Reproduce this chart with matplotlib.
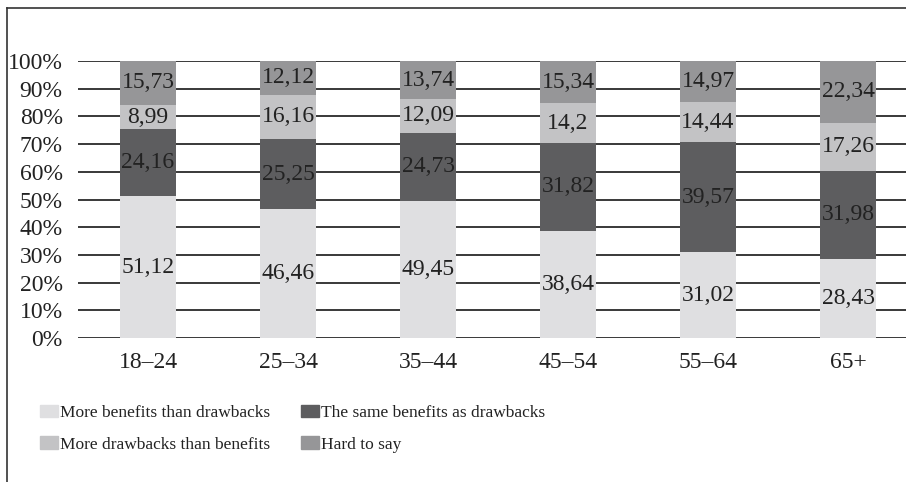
import numpy as np
import matplotlib
matplotlib.use("Agg")
import matplotlib.pyplot as plt
from matplotlib.lines import Line2D

plt.rcParams['font.family'] = ['Liberation Serif', 'DejaVu Serif']

# age groups and shares of answers (in %)
groups = ["18–24", "25–34", "35–44", "45–54", "55–64", "65+"]
more_benefits = [51.12, 46.46, 49.45, 38.64, 31.02, 28.43]
same = [24.16, 25.25, 24.73, 31.82, 39.57, 31.98]
more_drawbacks = [8.99, 16.16, 12.09, 14.2, 14.44, 17.26]
hard_to_say = [15.73, 12.12, 13.74, 15.34, 14.97, 22.34]

series = [more_benefits, same, more_drawbacks, hard_to_say]
names = ["More benefits than drawbacks", "The same benefits as drawbacks",
         "More drawbacks than benefits", "Hard to say"]
colors = ["#dfdfe1", "#5d5d5f", "#c3c3c5", "#969698"]

fig = plt.figure(figsize=(9.06, 4.82), dpi=100)
ax = fig.add_axes([78/906, (482-338)/482, 1 - 78/906, 277/482])

x = np.arange(len(groups))
totals = np.array([sum(v) for v in zip(*series)])
bottom = np.zeros(len(groups))
for vals, name, col in zip(series, names, colors):
    vals = np.array(vals)
    share = vals / totals * 100
    ax.bar(x, share, 0.4, bottom=bottom, color=col, zorder=2, label=name)
    for xi, bi, si, v in zip(x, bottom, share, vals):
        ax.text(xi, bi + si / 2, f"{v:g}".replace(".", ","), ha="center",
                va="center", fontsize=17, color="#222222", zorder=3)
    bottom += share

# horizontal grid behind the bars
for t in range(0, 101, 10):
    ax.axhline(t, color="#2a2a2a", linewidth=1.3, zorder=1)

ax.set_xlim(-0.5, 5.414)
ax.set_ylim(0, 100)
ax.set_yticks(range(0, 101, 10))
ax.set_yticklabels([f"{t}%" for t in range(0, 101, 10)])
ax.set_xticks(x)
ax.set_xticklabels(groups)
for s in ax.spines.values():
    s.set_visible(False)
ax.tick_params(length=0, labelsize=17, colors="#222222")
ax.tick_params(axis="y", pad=11)
ax.tick_params(axis="x", pad=10)

# legend in two columns under the plot
lh = [plt.Rectangle((0, 0), 1, 1, color=c) for c in colors]
order = [0, 2, 1, 3]
fig.legend([lh[i] for i in order], [names[i] for i in order], ncol=2,
           loc="upper left", bbox_to_anchor=(31/906, 1 - 396/482), frameon=False,
           borderpad=0, fontsize=12.5, handlelength=1.05, handleheight=0.7,
           handletextpad=0.1, columnspacing=1.8, labelspacing=0.9,
           labelcolor="#222222")

# frame lines on left and top edges
fig.add_artist(Line2D([7/906, 7/906], [0, 1 - 8/482], transform=fig.transFigure,
                      color="#333333", linewidth=1.2))
fig.add_artist(Line2D([7/906, 1], [1 - 8/482, 1 - 8/482], transform=fig.transFigure,
                      color="#333333", linewidth=1.2))

fig.savefig("out.png", dpi=100)
